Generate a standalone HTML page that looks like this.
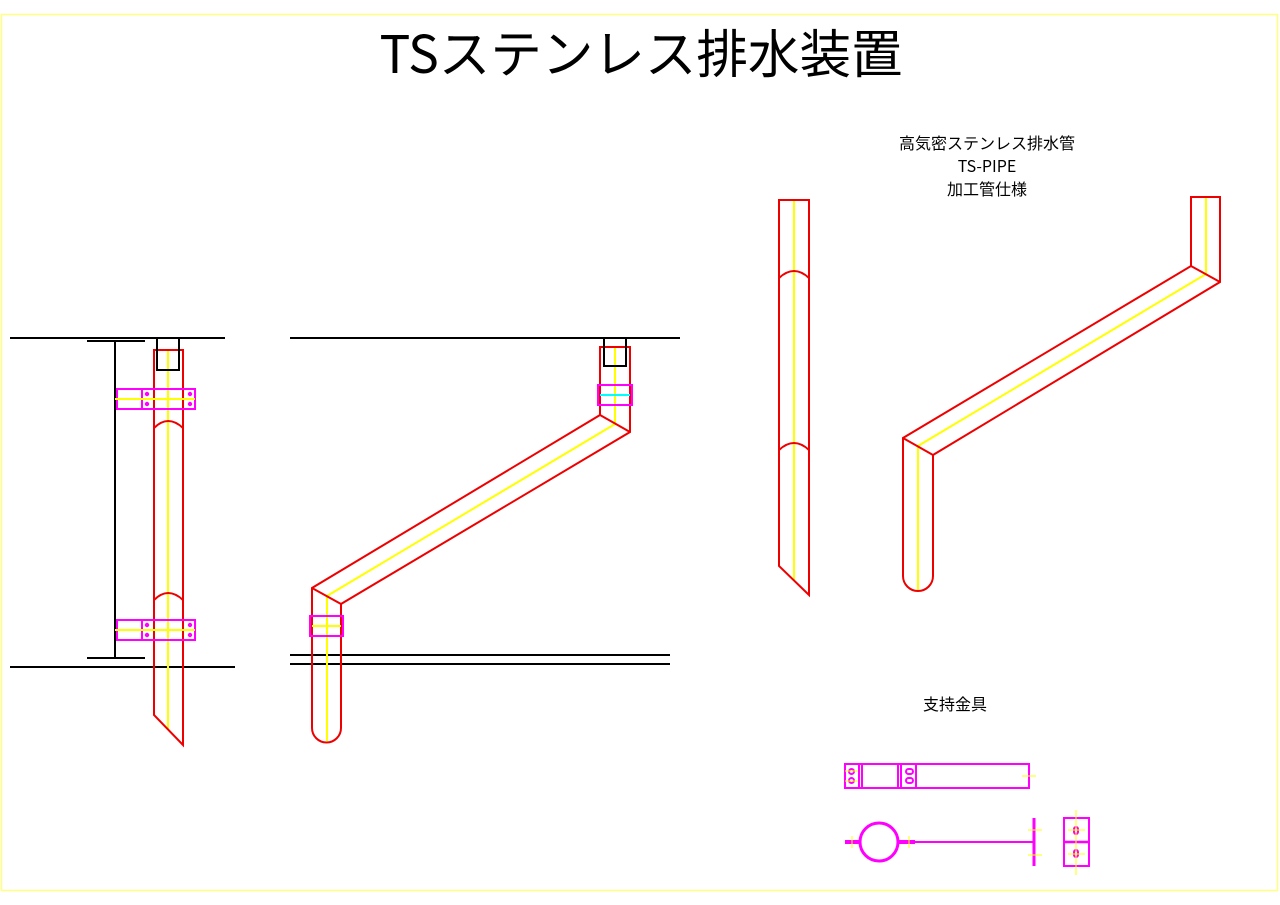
<!DOCTYPE html>
<html><head><meta charset="utf-8"><style>html,body{margin:0;padding:0;background:#fff}svg{display:block}</style></head>
<body>
<svg width="1280" height="905" viewBox="0 0 1280 905" xmlns="http://www.w3.org/2000/svg" font-family="'Noto Sans CJK JP','Liberation Sans',sans-serif">
<rect x="1.5" y="14.5" width="1276" height="876" fill="none" stroke="#ffff80" stroke-width="1.5"/>
<text x="641" y="73" font-size="52" text-anchor="middle" textLength="523" lengthAdjust="spacingAndGlyphs">TSステンレス排水装置</text>

<!-- Drawing 1 -->
<g fill="none" stroke-width="2">
<line x1="10" y1="338" x2="225" y2="338" stroke="#000"/>
<line x1="10" y1="667" x2="235" y2="667" stroke="#000"/>
<line x1="115" y1="341" x2="115" y2="658" stroke="#000"/>
<line x1="87" y1="341" x2="145" y2="341" stroke="#000"/>
<line x1="87" y1="658" x2="145" y2="658" stroke="#000"/>
<line x1="168" y1="350" x2="168" y2="730" stroke="#ff0"/>
<path d="M154 370 V350 H183 V370 M154 370 V715 L183 745 V370" stroke="#e00"/>
<path d="M154 428 Q168 414 183 428" stroke="#e00"/>
<path d="M154 600 Q168 586 183 600" stroke="#e00"/>
<rect x="157" y="338" width="22" height="32" stroke="#000"/>
<rect x="117" y="389" width="78" height="20" stroke="#f0f"/>
<line x1="142" y1="389" x2="142" y2="409" stroke="#f0f"/>
<line x1="115" y1="399" x2="195" y2="399" stroke="#ff0"/>
<rect x="117" y="620" width="78" height="20" stroke="#f0f"/>
<line x1="142" y1="620" x2="142" y2="640" stroke="#f0f"/>
<line x1="115" y1="630" x2="195" y2="630" stroke="#ff0"/>
</g>
<g fill="#f0f">
<circle cx="147" cy="394" r="2.2"/><circle cx="147" cy="404" r="2.2"/><circle cx="190" cy="394" r="2.2"/><circle cx="190" cy="404" r="2.2"/>
<circle cx="147" cy="625" r="2.2"/><circle cx="147" cy="635" r="2.2"/><circle cx="190" cy="625" r="2.2"/><circle cx="190" cy="635" r="2.2"/>
</g>

<!-- Drawing 2 -->
<g fill="none" stroke-width="2">
<line x1="290" y1="338" x2="680" y2="338" stroke="#000"/>
<line x1="290" y1="655" x2="670" y2="655" stroke="#000"/>
<line x1="290" y1="664" x2="670" y2="664" stroke="#000"/>
<path d="M615 347 V424 L327 596 V741" stroke="#ff0"/>
<path d="M600 366 V347 H630 V366 M600 366 V415 L312 588 V728 A14.5 14.5 0 0 0 341 728 V604 L630 432 V366 M600 415 L630 432 M312 588 L341 604" stroke="#e00"/>
<rect x="604" y="338" width="22" height="28" stroke="#000"/>
<rect x="598" y="385" width="34" height="20" stroke="#f0f"/>
<line x1="600" y1="395" x2="630" y2="395" stroke="#0ff"/>
<rect x="310" y="616" width="33" height="20" stroke="#f0f"/>
<line x1="312" y1="626" x2="341" y2="626" stroke="#ff0"/>
</g>

<!-- Drawing 3 -->
<g fill="none" stroke-width="2">
<line x1="794" y1="200" x2="794" y2="580" stroke="#ff0"/>
<path d="M779 200 H809 V595 L779 566 Z" stroke="#e00"/>
<path d="M779 278 Q794 264 809 278" stroke="#e00"/>
<path d="M779 450 Q794 436 809 450" stroke="#e00"/>
</g>

<!-- Drawing 4 -->
<g fill="none" stroke-width="2">
<path d="M1206 197 V274 L918 446 V591" stroke="#ff0"/>
<path d="M1191 266 V197 H1220 V282 L933 455 V576 A14.5 14.5 0 0 1 903 576 V438 L1191 266 L1220 282 M903 438 L933 455" stroke="#e00"/>
</g>

<text x="987" y="149" font-size="16" text-anchor="middle">高気密ステンレス排水管</text>
<text x="987" y="172" font-size="16" text-anchor="middle">TS-PIPE</text>
<text x="987" y="195" font-size="16" text-anchor="middle">加工管仕様</text>
<text x="955" y="710" font-size="16" text-anchor="middle">支持金具</text>

<!-- Bracket -->
<g fill="none" stroke="#f0f" stroke-width="2">
<rect x="845" y="764" width="184" height="24"/>
<line x1="859" y1="764" x2="859" y2="788"/><line x1="862" y1="764" x2="862" y2="788"/>
<line x1="898" y1="764" x2="898" y2="788"/><line x1="901" y1="764" x2="901" y2="788"/>
<line x1="916" y1="764" x2="916" y2="788"/>
<rect x="849" y="769" width="5" height="5" rx="2.5"/><rect x="849" y="778" width="5" height="5" rx="2.5"/>
<rect x="906" y="769" width="7" height="5" rx="2.5"/><rect x="906" y="778" width="7" height="5" rx="2.5"/>
<circle cx="879" cy="842" r="19" stroke-width="3"/>
<line x1="845" y1="842" x2="860" y2="842" stroke-width="4"/>
<line x1="898" y1="842" x2="915" y2="842" stroke-width="4"/>
<line x1="915" y1="842" x2="1034" y2="842" stroke-width="2"/>
<line x1="1034" y1="818" x2="1034" y2="866" stroke-width="3"/>
<rect x="1064" y="818" width="25" height="48"/>
<line x1="1064" y1="842" x2="1089" y2="842" stroke-width="2.5"/>
<rect x="1074" y="827" width="4" height="7" rx="2"/><rect x="1074" y="850" width="4" height="7" rx="2"/>
</g>
<g stroke="#ff0" stroke-width="1">
<line x1="1022" y1="776" x2="1036" y2="776"/>
<line x1="852" y1="836" x2="852" y2="848"/>
<line x1="909" y1="836" x2="909" y2="848"/>
<line x1="1028" y1="830" x2="1042" y2="830"/><line x1="1028" y1="855" x2="1042" y2="855"/>
<line x1="1076" y1="810" x2="1076" y2="875"/>
<line x1="1068" y1="830" x2="1085" y2="830"/><line x1="1068" y1="854" x2="1085" y2="854"/>
<line x1="845" y1="771" x2="858" y2="771"/><line x1="845" y1="781" x2="858" y2="781"/>
</g>
</svg>
</body></html>
